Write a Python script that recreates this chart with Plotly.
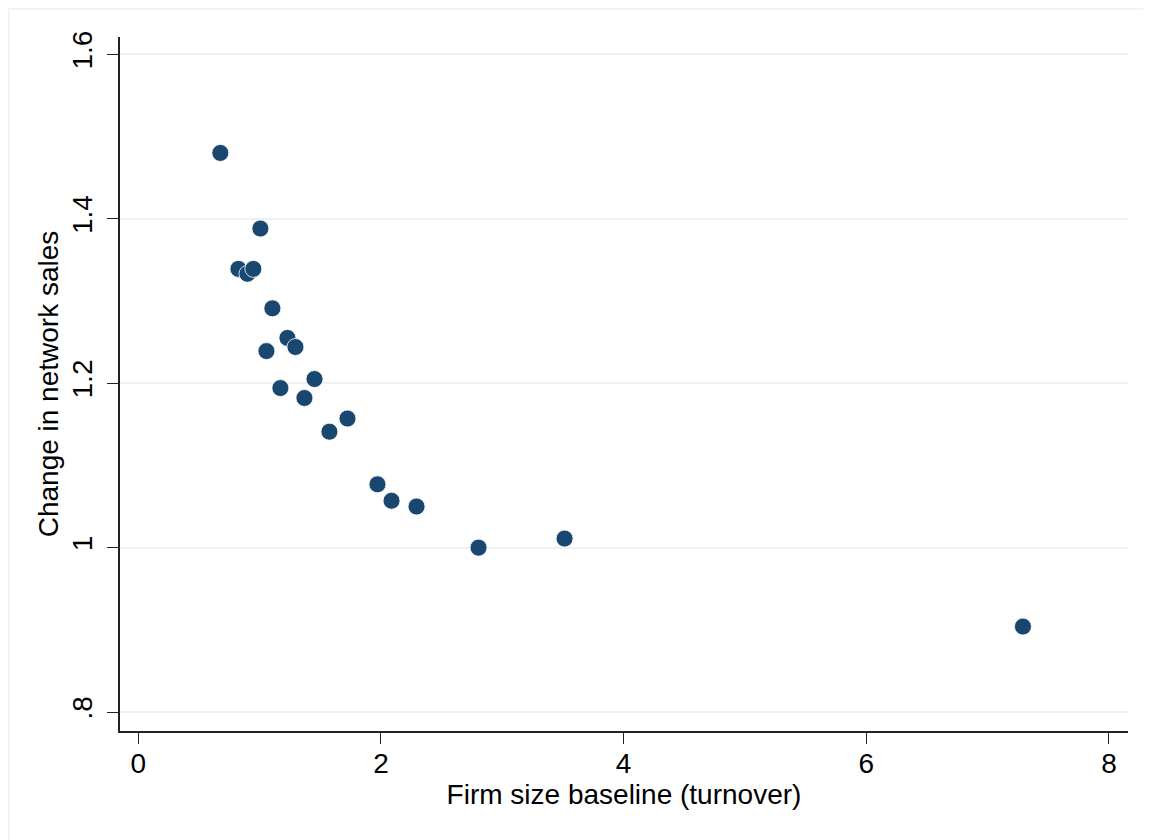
import plotly.graph_objects as go

firm_size = [0.676, 0.825, 0.899, 0.948, 1.006, 1.105, 1.056, 1.229, 1.295, 1.171,
             1.452, 1.369, 1.724, 1.575, 1.971, 2.087, 2.293, 2.804, 3.513, 7.291]
network_change = [1.480, 1.339, 1.333, 1.339, 1.388, 1.291, 1.239, 1.255, 1.244, 1.194,
                  1.205, 1.182, 1.157, 1.141, 1.077, 1.057, 1.050, 1.000, 1.011, 0.904]

x_tickvals = [0, 2, 4, 6, 8]
x_ticktext = ["0", "2", "4", "6", "8"]
y_tickvals = [0.8, 1.0, 1.2, 1.4, 1.6]
y_ticktext = [".8", "1", "1.2", "1.4", "1.6"]

FONT = "Liberation Sans, Arial, Helvetica, sans-serif"
GRID = "#eaf2f3"
FS = 28

fig = go.Figure()
fig.add_trace(go.Scatter(
    x=firm_size, y=network_change, mode="markers",
    marker=dict(size=17, color="#1a476f", line=dict(color="#ffffff", width=0.8)),
    showlegend=False, hoverinfo="skip",
))

fig.update_layout(
    width=1143, height=832,
    margin=dict(l=112, r=23, t=29, b=109, pad=0),
    paper_bgcolor="white", plot_bgcolor="white",
    font=dict(family=FONT, size=FS, color="black"),
    xaxis=dict(
        range=[-0.151, 8.157], tickvals=x_tickvals, ticktext=x_ticktext,
        showgrid=False, zeroline=False,
        showline=True, linecolor="#222", linewidth=1.6,
        ticks="outside", ticklen=11, tickwidth=1.4, tickcolor="#222",
        ticklabelstandoff=-4,
        tickfont=dict(size=FS, family=FONT, color="black"),
        title=dict(text="Firm size baseline (turnover)", standoff=6,
                   font=dict(size=FS, family=FONT, color="black")),
    ),
    yaxis=dict(
        range=[0.777, 1.621], tickvals=y_tickvals, ticktext=y_ticktext,
        showgrid=True, gridcolor=GRID, gridwidth=2, zeroline=False,
        showline=True, linecolor="#222", linewidth=1.6,
        ticks="outside", ticklen=11, tickwidth=1.4, tickcolor="#222",
        tickangle=-90, ticklabelstandoff=4,
        tickfont=dict(size=FS, family=FONT, color="black"),
        title=dict(text="Change in network sales", standoff=0,
                   font=dict(size=FS, family=FONT, color="black")),
    ),
    shapes=[
        dict(type="line", xref="paper", yref="paper", x0=-0.1106, x1=1.2, y0=1.0411, y1=1.0411,
             line=dict(color=GRID, width=2), layer="below"),
        dict(type="line", xref="paper", yref="paper", x0=-0.1106, x1=-0.1106, y0=-0.3, y1=1.0411,
             line=dict(color=GRID, width=2), layer="below"),
    ],
)

fig.write_html("out.html")
